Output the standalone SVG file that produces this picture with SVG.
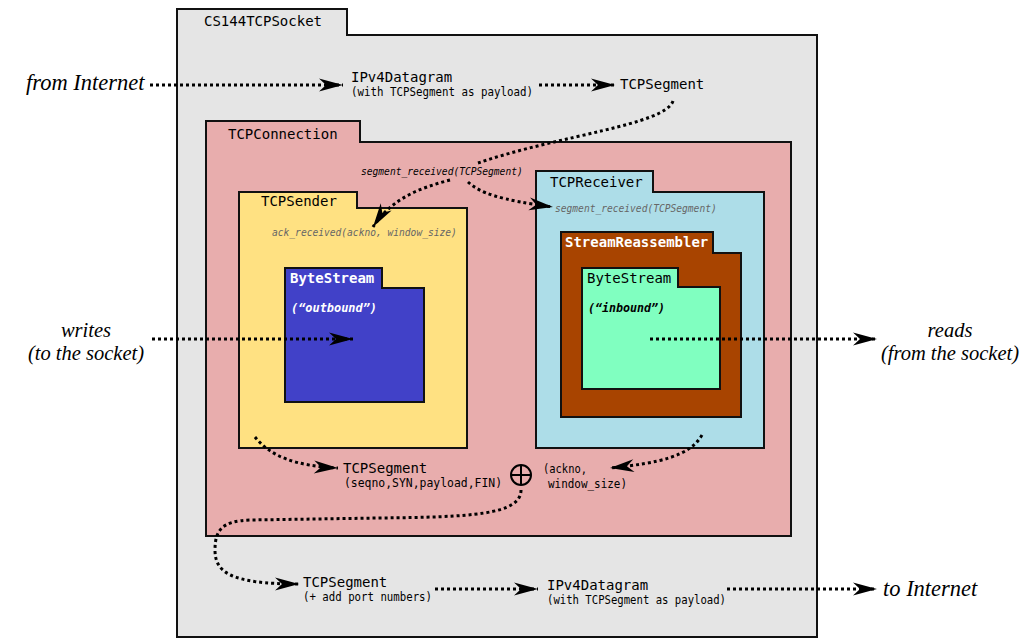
<svg xmlns="http://www.w3.org/2000/svg" width="1030" height="643" viewBox="0 0 1030 643">
<style>
.f{stroke:#111;stroke-width:2}
.m{font-family:"DejaVu Sans Mono","Liberation Mono",monospace;font-size:14px;fill:#000}
.s{font-family:"DejaVu Sans Mono","Liberation Mono",monospace;font-size:12px;fill:#000}
.g{font-family:"DejaVu Sans Mono","Liberation Mono",monospace;font-size:9.6px;font-style:italic;fill:#666}
.w{fill:#fff;font-weight:bold}
.it{font-family:"Liberation Serif",serif;font-style:italic;font-size:22.5px;fill:#000}
.it2{font-family:"Liberation Serif",serif;font-style:italic;font-size:20.5px;fill:#000}
.c{fill:none;stroke:#000;stroke-width:3;stroke-dasharray:3 3}
</style>
<defs>
<marker id="ah" markerUnits="userSpaceOnUse" orient="auto" overflow="visible" markerWidth="1" markerHeight="1">
<path d="M-24,-6.5 L0,0 L-24,6.5 L-17,0 Z" fill="#000"/>
</marker>
</defs>
<rect width="1030" height="643" fill="#fff"/>
<g id="socket">
<path class="f" d="M177,9 H347 V35 H817 V637 H177 Z" fill="#e5e5e5"/>
<text class="m" x="204" y="26">CS144TCPSocket</text>
</g>
<g id="connection">
<path class="f" d="M206,121 H360 V142 H791 V536 H206 Z" fill="#e8adad"/>
<text class="m" x="228" y="139">TCPConnection</text>
</g>
<g id="sender">
<path class="f" d="M239,192 H357 V208 H467 V448 H239 Z" fill="#ffe182"/>
<text class="m" x="261" y="206">TCPSender</text>
<text class="g" x="272" y="236">ack_received(ackno, window_size)</text>
</g>
<g id="outbound">
<path class="f" d="M285,268 H382 V288 H424 V402 H285 Z" fill="#4141c8"/>
<text class="m w" x="290" y="283">ByteStream</text>
<text class="s w" x="291" y="312" font-style="italic" font-size="12.5" textLength="86" lengthAdjust="spacingAndGlyphs">(“outbound”)</text>
</g>
<g id="receiver">
<path class="f" d="M536,171 H653 V192 H764 V448 H536 Z" fill="#addde8"/>
<text class="m" x="550" y="187">TCPReceiver</text>
<text class="g" x="555" y="212">segment_received(TCPSegment)</text>
</g>
<g id="reassembler">
<path class="f" d="M561,232 H713 V253 H741 V417 H561 Z" fill="#a84400"/>
<text class="m w" x="565" y="247">StreamReassembler</text>
</g>
<g id="inbound">
<path class="f" d="M582,268 H678 V287 H720 V389 H582 Z" fill="#80ffc0"/>
<text class="m" x="587" y="283">ByteStream</text>
<text class="s" x="588" y="312" font-style="italic" font-weight="bold" font-size="12.5" textLength="77" lengthAdjust="spacingAndGlyphs">(“inbound”)</text>
</g>
<g id="labels">
<text class="it" x="26" y="90">from Internet</text>
<text class="m" x="351" y="82">IPv4Datagram</text>
<text class="s" x="351" y="96" textLength="182" lengthAdjust="spacingAndGlyphs">(with TCPSegment as payload)</text>
<text class="m" x="620" y="89">TCPSegment</text>
<text class="g" x="361" y="175" style="fill:#000">segment_received(TCPSegment)</text>
<text class="it2" x="86" y="337" text-anchor="middle">writes</text>
<text class="it2" x="86" y="360" text-anchor="middle">(to the socket)</text>
<text class="it2" x="950" y="337" text-anchor="middle">reads</text>
<text class="it2" x="950" y="360" text-anchor="middle">(from the socket)</text>
<text class="m" x="343" y="473">TCPSegment</text>
<text class="s" x="344" y="487" textLength="158" lengthAdjust="spacingAndGlyphs">(seqno,SYN,payload,FIN)</text>
<text class="s" x="543" y="473" textLength="44" lengthAdjust="spacingAndGlyphs">(ackno,</text>
<text class="s" x="548" y="488" textLength="79" lengthAdjust="spacingAndGlyphs">window_size)</text>
<text class="m" x="303" y="587">TCPSegment</text>
<text class="s" x="303" y="601" textLength="129" lengthAdjust="spacingAndGlyphs">(+ add port numbers)</text>
<text class="m" x="547" y="590">IPv4Datagram</text>
<text class="s" x="547" y="604" textLength="179" lengthAdjust="spacingAndGlyphs">(with TCPSegment as payload)</text>
<text class="it" x="883" y="596">to Internet</text>
</g>
<g id="plus">
<circle cx="521" cy="475" r="10" fill="none" stroke="#000" stroke-width="2"/>
<path d="M511,475 H531 M521,465 V485" stroke="#000" stroke-width="2"/>
</g>
<g id="connectors">
<path class="c" d="M150,85 H343" marker-end="url(#ah)"/>
<path class="c" d="M539,85 H615" marker-end="url(#ah)"/>
<path class="c" d="M673,101 C665,125 560,135 478,163"/>
<path class="c" d="M450,180 C420,188 392,198 373,227" marker-end="url(#ah)"/>
<path class="c" d="M468,182 C480,193 500,200 553,207" marker-end="url(#ah)"/>
<path class="c" d="M152,339 H353" marker-end="url(#ah)"/>
<path class="c" d="M650,339 H877" marker-end="url(#ah)"/>
<path class="c" d="M255,437 C270,456 295,466 338,468" marker-end="url(#ah)"/>
<path class="c" d="M702,435 C690,456 660,463 610,468" marker-end="url(#ah)"/>
<path class="c" d="M521,490 C521,515 470,517 380,518 L250,520 C222,521 215,530 215,550 C215,572 230,584 299,584" marker-end="url(#ah)"/>
<path class="c" d="M435,589 H538" marker-end="url(#ah)"/>
<path class="c" d="M727,589 H877" marker-end="url(#ah)"/>
</g>
</svg>
